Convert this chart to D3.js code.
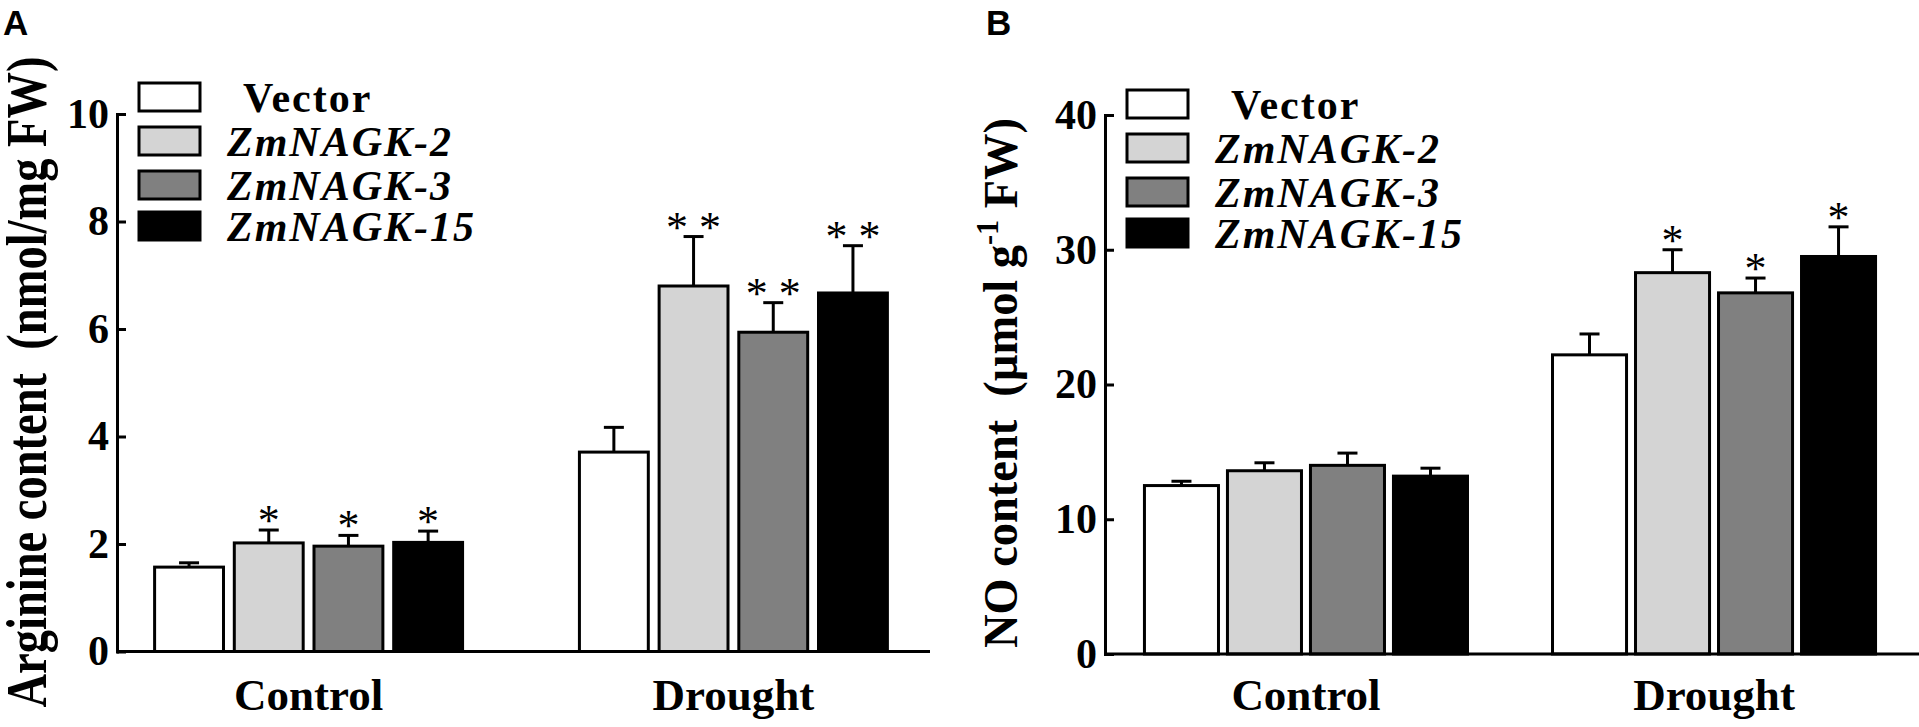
<!DOCTYPE html>
<meta charset="utf-8">
<style>
body { margin: 0; background: #fff; }
text { font-family: "Liberation Serif", "Times New Roman", serif; fill: #000; }
.tick text { font-size: 42px; font-weight: bold; }
.panel-label { font-family: "Liberation Sans", Arial, sans-serif; font-weight: bold; font-size: 35px; }
.group-label { font-size: 45px; font-weight: bold; }
.legend text { font-size: 42px; font-weight: bold; letter-spacing: 2px; }
.sig { font-size: 44px; }
.ytitle { font-weight: bold; white-space: pre; }
</style>
<svg width="1919" height="727"></svg>
<script src="https://d3js.org/d3.v7.min.js"></script>
<script>

var groups = ["Control", "Drought"];
var series = ["Vector", "ZmNAGK-2", "ZmNAGK-3", "ZmNAGK-15"];

// arginine content, nmol/mg FW
var arginineMean = [[1.57, 2.02, 1.96, 2.03], [3.71, 6.80, 5.94, 6.67]];
var arginineErr  = [[0.08, 0.24, 0.20, 0.21], [0.46, 0.92, 0.55, 0.88]];
var arginineSig  = [["", "*", "*", "*"], ["", "* *", "* *", "* *"]];
var arginineTicks = [0, 2, 4, 6, 8, 10];

// NO content, umol/g FW
var noMean = [[12.5, 13.6, 14.0, 13.2], [22.2, 28.3, 26.8, 29.5]];
var noErr  = [[0.32, 0.59, 0.91, 0.59], [1.55, 1.70, 1.10, 2.20]];
var noSig  = [["", "", "", ""], ["", "*", "*", "*"]];
var noTicks = [0, 10, 20, 30, 40];

var fills = ["#ffffff", "#d4d4d4", "#808080", "#000000"];

var svg = d3.select("svg");

function drawPanel(o) {
  var g = svg.append("g");

  var y = d3.scaleLinear().domain([0, d3.max(o.ticks)]).range([o.y0, o.y1]);
  var x0 = d3.scaleBand().domain(groups).range([o.left, o.right])
      .paddingInner(o.padIn).paddingOuter(o.padOut);
  var x1 = d3.scaleBand().domain(series).range([0, x0.bandwidth()]).paddingInner(o.barPad);

  var rows = [];
  groups.forEach(function(gr, i) {
    series.forEach(function(s, j) {
      rows.push({group: gr, series: s, j: j, v: o.mean[i][j], e: o.err[i][j], sig: o.sig[i][j]});
    });
  });

  var bar = g.selectAll(".bar").data(rows).enter().append("g")
      .attr("transform", function(d) { return "translate(" + x0(d.group) + ",0)"; });

  // error whisker (upper only)
  bar.append("line")
      .attr("x1", function(d) { return x1(d.series) + x1.bandwidth() / 2; })
      .attr("x2", function(d) { return x1(d.series) + x1.bandwidth() / 2; })
      .attr("y1", function(d) { return y(d.v); })
      .attr("y2", function(d) { return y(d.v + d.e); })
      .attr("stroke", "#000").attr("stroke-width", 3);
  bar.append("line")
      .attr("x1", function(d) { return x1(d.series) + x1.bandwidth() / 2 - 10; })
      .attr("x2", function(d) { return x1(d.series) + x1.bandwidth() / 2 + 10; })
      .attr("y1", function(d) { return y(d.v + d.e); })
      .attr("y2", function(d) { return y(d.v + d.e); })
      .attr("stroke", "#000").attr("stroke-width", 3);

  bar.append("rect")
      .attr("x", function(d) { return x1(d.series) + 1.5; })
      .attr("y", function(d) { return y(d.v); })
      .attr("width", x1.bandwidth() - 3)
      .attr("height", function(d) { return y(0) - y(d.v); })
      .attr("fill", function(d) { return fills[d.j]; })
      .attr("stroke", "#000").attr("stroke-width", 3);

  bar.append("text")
      .attr("class", "sig")
      .attr("text-anchor", "middle")
      .attr("x", function(d) { return x1(d.series) + x1.bandwidth() / 2; })
      .attr("y", function(d) { return y(d.v + d.e) + 5; })
      .text(function(d) { return d.sig; });

  // y axis, ticks pointing inward
  var yAxis = g.append("g")
      .attr("transform", "translate(" + o.left + ",0)")
      .call(d3.axisLeft(y).tickValues(o.ticks).tickSizeInner(-9).tickSizeOuter(0).tickPadding(8));
  yAxis.selectAll("path, line").attr("stroke", "#000").attr("stroke-width", 3);
  yAxis.select(".domain").attr("stroke-linecap", "square");

  // x baseline
  g.append("line")
      .attr("x1", o.left).attr("x2", o.axisEnd)
      .attr("y1", y(0)).attr("y2", y(0))
      .attr("stroke", "#000").attr("stroke-width", 3);

  g.selectAll(".group-label").data(groups).enter().append("text")
      .attr("class", "group-label")
      .attr("text-anchor", "middle")
      .attr("x", function(d) { return x0(d) + x0.bandwidth() / 2; })
      .attr("y", 710)
      .text(function(d) { return d; });

  // y title, squeezed along its length like the original
  var title = g.append("text")
      .attr("class", "ytitle")
      .attr("text-anchor", "middle")
      .style("font-size", o.titleSize + "px");
  o.title.forEach(function(p) {
    var t = title.append("tspan").text(p.t);
    if (p.sup) t.attr("dy", -o.titleSize * 0.4).style("font-size", (o.titleSize * 0.65) + "px");
    if (p.down) t.attr("dy", o.titleSize * 0.4);
  });
  var w = title.node().getComputedTextLength();
  title.attr("transform", "translate(" + o.titleX + "," + o.titleY + ") rotate(-90) scale(" + (o.titleLen / w) + ",1)");

  // legend
  var rowOff = [0, 44, 88, 129];
  var leg = g.append("g").attr("class", "legend");
  series.forEach(function(s, j) {
    var ty = o.legendTop + rowOff[j];
    leg.append("rect")
        .attr("x", o.left + 22).attr("y", ty)
        .attr("width", 61).attr("height", 28)
        .attr("fill", fills[j]).attr("stroke", "#000").attr("stroke-width", 3);
    leg.append("text")
        .attr("x", o.left + (j === 0 ? 126 : 110))
        .attr("y", ty + 29)
        .style("font-style", j === 0 ? "normal" : "italic")
        .text(s);
  });

  svg.append("text")
      .attr("class", "panel-label")
      .attr("x", o.labelX).attr("y", 35)
      .text(o.label);
}

drawPanel({
  label: "A", labelX: 3,
  mean: arginineMean, err: arginineErr, sig: arginineSig, ticks: arginineTicks,
  y0: 651.5, y1: 114, left: 117, right: 925, axisEnd: 930,
  padIn: 0.268, padOut: 0.085, barPad: 0.098,
  legendTop: 83,
  title: [{t: "Arginine content  (nmol/mg FW)"}],
  titleSize: 56, titleX: 46, titleY: 382, titleLen: 651
});

drawPanel({
  label: "B", labelX: 986,
  mean: noMean, err: noErr, sig: noSig, ticks: noTicks,
  y0: 654, y1: 115, left: 1105, right: 1915, axisEnd: 1919,
  padIn: 0.201, padOut: 0.093, barPad: 0.072,
  legendTop: 90,
  title: [{t: "NO content  (\u00b5mol g"}, {t: "-1", sup: true}, {t: " FW)", down: true}],
  titleSize: 48, titleX: 1017, titleY: 383, titleLen: 530
});

</script>
